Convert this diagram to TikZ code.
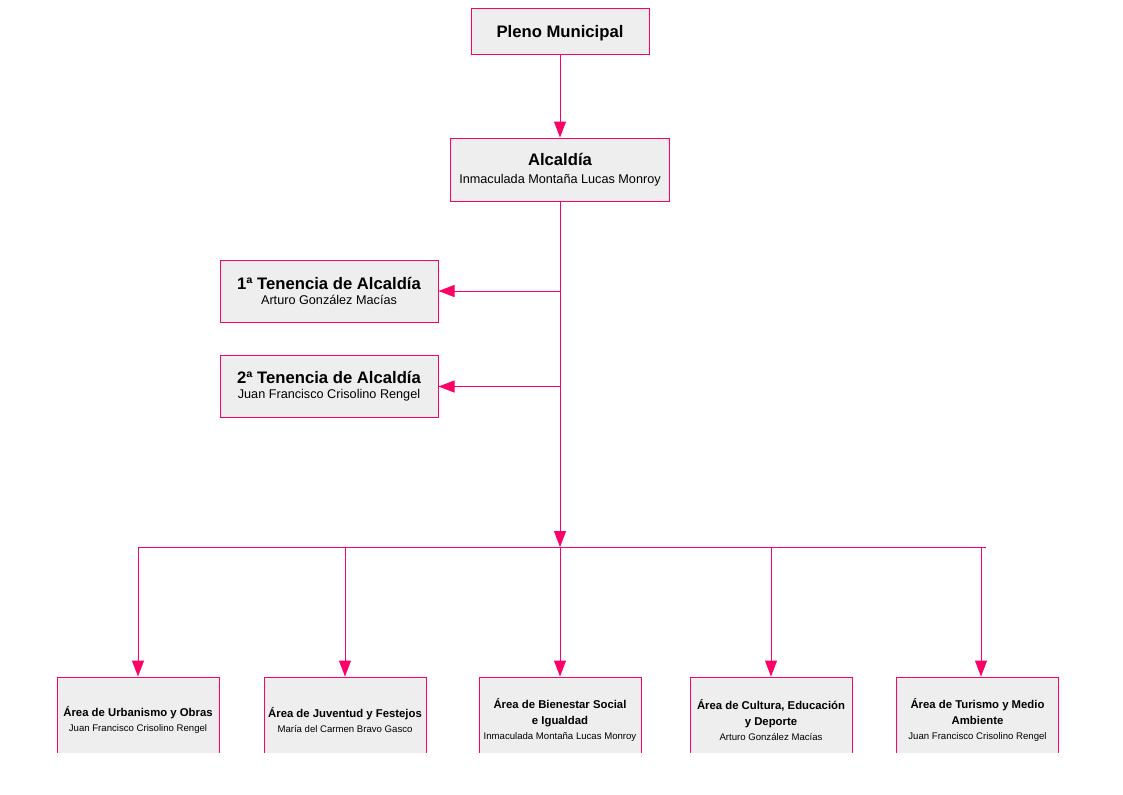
\documentclass[tikz,border=0pt]{standalone}
\usepackage{fontspec}
\setmainfont{Liberation Sans}
\usetikzlibrary{arrows.meta}
\definecolor{orgpink}{RGB}{255,0,102}
\definecolor{orgfill}{RGB}{238,238,238}
\newcommand{\boxtitle}{\fontsize{12.5}{15}\selectfont\bfseries}
\newcommand{\boxname}{\fontsize{9.5}{12}\selectfont}
\newcommand{\areatitle}{\fontsize{8.5}{11}\selectfont\bfseries}
\newcommand{\areaname}{\fontsize{7.2}{9}\selectfont}

\begin{document}
\begin{tikzpicture}[x=0.75pt,y=0.75pt,yscale=-1,xscale=1,
  orgbox/.style={draw=orgpink,fill=orgfill,line width=0.75pt,inner sep=0pt,align=center},
  areabox/.style={orgbox,minimum width=121.5pt,minimum height=64.5pt},
  orglink/.style={draw=orgpink,line width=0.75pt,-{Triangle[length=12pt,width=9pt]}},
  busline/.style={draw=orgpink,line width=0.75pt}]
%set diagram to the full page
\path (0,0) rectangle (1123,794);

% Text Node
\node [orgbox,minimum width=133.5pt,minimum height=34.5pt,text depth=0pt] (pleno) at (560,31) {\boxtitle Pleno Municipal};
% Text Node
\node [orgbox,minimum width=164.25pt,minimum height=47.25pt] (alc) at (560,169.5) {\boxtitle Alcaldía\\[1.5pt]\boxname Inmaculada Montaña Lucas Monroy};
% Text Node
\node [orgbox,minimum width=163.5pt,minimum height=46.5pt] (ten1) at (329,291) {\boxtitle 1ª Tenencia de Alcaldía\\[-1pt]\boxname Arturo González Macías};
% Text Node
\node [orgbox,minimum width=163.5pt,minimum height=46.5pt] (ten2) at (329,386.5) {\boxtitle 2ª Tenencia de Alcaldía\\[-1pt]\boxname Juan Francisco Crisolino Rengel};

%Shapes cut at the page foot
\begin{scope}
\clip (0,0) rectangle (1123,752);
\node [areabox] (a1) at (138,720) {\areatitle Área de Urbanismo y Obras\\[-1pt]\areaname Juan Francisco Crisolino Rengel};
\node [areabox] (a2) at (345,720) {\areatitle Área de Juventud y Festejos\\[-1pt]\areaname María del Carmen Bravo Gasco};
\node [areabox] (a3) at (560,720) {\areatitle Área de Bienestar Social\\\areatitle e Igualdad\\[-1pt]\areaname Inmaculada Montaña Lucas Monroy};
\node [areabox] (a4) at (771,720) {\areatitle Área de Cultura, Educación\\\areatitle y Deporte\\[-1pt]\areaname Arturo González Macías};
\node [areabox] (a5) at (977.5,720) {\areatitle Área de Turismo y Medio\\\areatitle Ambiente\\[-1pt]\areaname Juan Francisco Crisolino Rengel};
\end{scope}

\coordinate (bus) at (560,547);
\coordinate (busL) at (138,547);
\coordinate (busR) at (986,547);
\coordinate (drop5) at (981,547);

%Straight Lines
\draw [orglink] (pleno.south) -- (pleno.south |- alc.north);
%Straight Lines
\draw [orglink] (alc.south) -- (bus);
%Straight Lines
\draw [orglink] (alc.south |- ten1.east) -- (ten1.east);
%Straight Lines
\draw [orglink] (alc.south |- ten2.east) -- (ten2.east);
%Straight Lines
\draw [busline] (busL) -- (busR);
%Straight Lines
\foreach \n in {a1,a2,a3,a4}
  \draw [orglink] (\n.north |- bus) -- (\n.north);
%Straight Lines
\draw [orglink] (drop5) -- (drop5 |- a5.north);

\end{tikzpicture}
\end{document}
